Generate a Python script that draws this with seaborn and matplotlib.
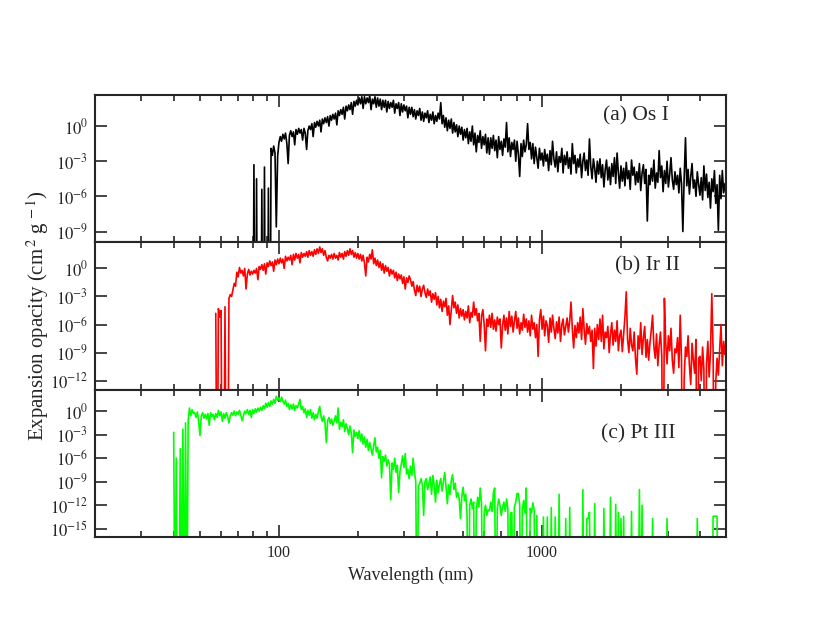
import numpy as np
import pandas as pd
import matplotlib
matplotlib.use("Agg")
import matplotlib.pyplot as plt
import seaborn as sns
from matplotlib.ticker import NullLocator, FuncFormatter, LogLocator

# wavelength grid (nm), 0.005 dex steps from 39.8 to 5012 nm, one row per 0.1 dex
wavelength = [
    39.81, 40.27, 40.74, 41.21, 41.69, 42.17, 42.66, 43.15, 43.65, 44.16, 44.67, 45.19, 45.71, 46.24, 46.77, 47.32, 47.86, 48.42, 48.98, 49.55,
    50.12, 50.70, 51.29, 51.88, 52.48, 53.09, 53.70, 54.33, 54.95, 55.59, 56.23, 56.89, 57.54, 58.21, 58.88, 59.57, 60.26, 60.95, 61.66, 62.37,
    63.10, 63.83, 64.57, 65.31, 66.07, 66.83, 67.61, 68.39, 69.18, 69.98, 70.79, 71.61, 72.44, 73.28, 74.13, 74.99, 75.86, 76.74, 77.62, 78.52,
    79.43, 80.35, 81.28, 82.22, 83.18, 84.14, 85.11, 86.10, 87.10, 88.10, 89.13, 90.16, 91.20, 92.26, 93.33, 94.41, 95.50, 96.61, 97.72, 98.86,
    100.0, 101.2, 102.3, 103.5, 104.7, 105.9, 107.2, 108.4, 109.6, 110.9, 112.2, 113.5, 114.8, 116.1, 117.5, 118.9, 120.2, 121.6, 123.0, 124.5,
    125.9, 127.4, 128.8, 130.3, 131.8, 133.4, 134.9, 136.5, 138.0, 139.6, 141.3, 142.9, 144.5, 146.2, 147.9, 149.6, 151.4, 153.1, 154.9, 156.7,
    158.5, 160.3, 162.2, 164.1, 166.0, 167.9, 169.8, 171.8, 173.8, 175.8, 177.8, 179.9, 182.0, 184.1, 186.2, 188.4, 190.5, 192.8, 195.0, 197.2,
    199.5, 201.8, 204.2, 206.5, 208.9, 211.3, 213.8, 216.3, 218.8, 221.3, 223.9, 226.5, 229.1, 231.7, 234.4, 237.1, 239.9, 242.7, 245.5, 248.3,
    251.2, 254.1, 257.0, 260.0, 263.0, 266.1, 269.2, 272.3, 275.4, 278.6, 281.8, 285.1, 288.4, 291.7, 295.1, 298.5, 302.0, 305.5, 309.0, 312.6,
    316.2, 319.9, 323.6, 327.3, 331.1, 335.0, 338.8, 342.8, 346.7, 350.8, 354.8, 358.9, 363.1, 367.3, 371.5, 375.8, 380.2, 384.6, 389.0, 393.6,
    398.1, 402.7, 407.4, 412.1, 416.9, 421.7, 426.6, 431.5, 436.5, 441.6, 446.7, 451.9, 457.1, 462.4, 467.7, 473.2, 478.6, 484.2, 489.8, 495.5,
    501.2, 507.0, 512.9, 518.8, 524.8, 530.9, 537.0, 543.3, 549.5, 555.9, 562.3, 568.9, 575.4, 582.1, 588.8, 595.7, 602.6, 609.5, 616.6, 623.7,
    631.0, 638.3, 645.7, 653.1, 660.7, 668.3, 676.1, 683.9, 691.8, 699.8, 707.9, 716.1, 724.4, 732.8, 741.3, 749.9, 758.6, 767.4, 776.2, 785.2,
    794.3, 803.5, 812.8, 822.2, 831.8, 841.4, 851.1, 861.0, 871.0, 881.0, 891.3, 901.6, 912.0, 922.6, 933.3, 944.1, 955.0, 966.1, 977.2, 988.6,
    1000, 1012, 1023, 1035, 1047, 1059, 1072, 1084, 1096, 1109, 1122, 1135, 1148, 1161, 1175, 1189, 1202, 1216, 1230, 1245,
    1259, 1274, 1288, 1303, 1318, 1334, 1349, 1365, 1380, 1396, 1413, 1429, 1445, 1462, 1479, 1496, 1514, 1531, 1549, 1567,
    1585, 1603, 1622, 1641, 1660, 1679, 1698, 1718, 1738, 1758, 1778, 1799, 1820, 1841, 1862, 1884, 1905, 1928, 1950, 1972,
    1995, 2018, 2042, 2065, 2089, 2113, 2138, 2163, 2188, 2213, 2239, 2265, 2291, 2317, 2344, 2371, 2399, 2427, 2455, 2483,
    2512, 2541, 2570, 2600, 2630, 2661, 2692, 2723, 2754, 2786, 2818, 2851, 2884, 2917, 2951, 2985, 3020, 3055, 3090, 3126,
    3162, 3199, 3236, 3273, 3311, 3350, 3388, 3428, 3467, 3508, 3548, 3589, 3631, 3673, 3715, 3758, 3802, 3846, 3890, 3936,
    3981, 4027, 4074, 4121, 4169, 4217, 4266, 4315, 4365, 4416, 4467, 4519, 4571, 4624, 4677, 4732, 4786, 4842, 4898, 4955,
    5012,
]

# log10 of expansion opacity (cm^2 g^-1); -30 = far below the axis
os_i = [
    None, None, None, None, None, None, None, None, None, None, None, None, None, None, None, None, None, None, None, None,
    None, None, None, None, None, None, None, None, None, None, None, None, None, None, None, None, None, None, None, None,
    None, None, None, None, None, None, None, None, None, None, None, None, None, None, None, None, None, None, None, None,
    -30, -3.3, -30, -4.5, -30, -30, -30, -5.4, -30, -3.5, -30, -30, -5.3, -30, -1.9, -2.5, -1.7, -2.3, -8.6, -2.6,
    -1.4, -0.9, -1.3, -0.7, -1.1, -0.6, -1.5, -3.2, -0.8, -0.4, -0.9, -0.5, -1.6, -0.3, -0.7, -0.2, -0.6, -0.3, -1.2, -0.2,
    -0.6, -2.0, -0.4, 0.0, -0.3, 0.2, -0.9, 0.3, -0.1, 0.4, 0.0, 0.5, -0.5, 0.6, 0.2, 0.7, 0.3, 0.8, 0.0, 0.9,
    0.5, 1.0, 0.6, 1.1, 0.1, 1.3, 0.9, 1.4, 1.0, 1.6, 0.6, 1.7, 1.3, 1.8, 1.4, 2.0, 1.0, 2.1, 1.7, 2.2,
    1.8, 2.4, 1.9, 2.5, 1.5, 2.5, 1.9, 2.4, 2.0, 2.6, 1.4, 2.3, 1.9, 2.5, 1.6, 2.4, 1.7, 2.3, 1.4, 2.2,
    1.6, 2.2, 1.2, 2.1, 1.5, 2.0, 1.6, 2.2, 1.1, 1.9, 1.5, 2.0, 0.9, 1.9, 1.2, 1.8, 1.3, 1.7, 0.7, 1.6,
    1.0, 1.6, 0.8, 1.4, 0.6, 1.3, 0.9, 1.5, 0.5, 1.2, 0.4, 1.1, 0.7, 1.3, 0.3, 1.0, 0.5, 1.2, 0.2, 0.9,
    0.4, 1.1, 0.6, 2.0, 0.2, 0.9, -0.1, 0.7, -0.4, 0.5, -0.2, 0.6, -0.6, 0.3, -0.5, 0.1, -0.9, 0.0, -0.7, -0.1,
    -1.2, -0.3, -1.0, -0.2, -1.5, -0.5, -1.3, 0.0, -1.6, -0.6, -2.2, -0.8, -1.4, -0.4, -1.9, -0.9, -1.6, -0.7, -2.3, -1.0,
    -2.4, -1.0, -1.9, -0.8, -2.1, -1.2, -2.7, -0.9, -2.0, -1.3, -2.5, -1.1, -1.8, 0.3, -2.2, -1.0, -2.6, -1.4, -2.0, -1.2,
    -3.0, -1.3, -2.4, -4.3, -1.5, -2.6, -1.2, -2.2, -1.6, 0.2, -2.0, -1.4, -2.8, -1.5, -3.2, -1.8, -2.7, -3.6, -1.9, -2.9,
    -2.3, -3.4, -2.0, -3.0, -2.4, -3.8, -2.1, -3.3, -1.3, -2.8, -3.5, -2.2, -3.9, -2.6, -3.1, -1.9, -4.0, -2.5, -3.3, -2.2,
    -3.6, -2.7, -4.1, -1.5, -3.2, -2.5, -4.0, -2.8, -3.5, -2.4, -4.4, -3.0, -2.3, -3.8, -2.9, -4.2, -1.1, -3.4, -4.5, -2.8,
    -3.6, -4.8, -3.0, -4.1, -2.8, -4.4, -3.3, -5.2, -3.7, -2.9, -4.6, -3.5, -5.0, -3.2, -4.3, -2.7, -4.9, -2.3, -4.0, -5.3,
    -3.4, -4.7, -3.6, -5.1, -3.1, -4.5, -3.8, -5.4, -2.9, -4.2, -3.5, -5.0, -3.9, -4.8, -3.2, -5.5, -4.0, -3.3, -4.9, -3.7,
    -8.1, -4.2, -5.0, -3.6, -4.7, -2.9, -5.3, -4.0, -4.8, -2.1, -4.4, -3.4, -5.6, -3.8, -4.9, -3.0, -5.2, -4.1, -2.7, -4.6,
    -5.4, -3.9, -5.0, -4.2, -5.7, -3.6, -4.9, -9.0, -4.5, -1.0, -5.1, -3.7, -5.8, -4.3, -3.2, -5.3, -4.6, -6.0, -3.9, -5.0,
    -5.9, -4.4, -6.3, -3.4, -5.5, -4.1, -6.1, -4.8, -7.0, -4.5, -5.6, -3.8, -6.6, -5.0, -8.9, -4.2, -6.2, -3.8, -5.7, -4.9,
    -6.0,
]

ir_ii = [
    None, None, None, None, None, None, None, None, None, None, None, None, None, None, None, None, None, None, None, None,
    None, None, None, None, None, None, None, None, None, None, None, None, -4.8, -30, -4.3, -5.2, -4.5, -30, -30, -4.1,
    -30, -30, -3.2, -2.8, -3.0, -2.3, -1.6, -1.9, -0.4, -0.9, 0.1, -0.5, -0.2, -0.8, 0.0, -2.2, -0.6, -0.1, -0.7, -0.3,
    -0.6, -0.2, -0.5, 0.0, -1.2, 0.2, -0.1, 0.4, -0.2, 0.5, -0.6, 0.6, 0.2, 0.8, 0.3, 0.7, -0.3, 0.9, 0.4, 1.0,
    0.5, 1.1, 0.6, 1.0, 0.0, 1.3, 0.8, 1.2, 0.9, 1.4, 0.4, 1.5, 0.9, 1.6, 1.1, 1.5, 0.6, 1.7, 1.2, 1.6,
    1.3, 1.8, 1.2, 1.9, 1.4, 1.8, 1.3, 2.0, 1.5, 2.1, 1.6, 2.3, 1.7, 2.1, 1.4, 1.9, 1.2, 0.8, 1.4, 1.1,
    1.5, 1.0, 1.6, 1.1, 1.4, 0.9, 1.7, 1.2, 1.6, 1.0, 1.8, 1.3, 1.9, 1.4, 2.1, 1.5, 1.9, 1.2, 1.7, 1.1,
    1.6, 1.0, 1.5, 0.8, 1.4, 0.6, -0.8, 1.2, 0.7, 1.5, 1.0, 2.0, 0.5, 1.1, 0.3, 0.9, 0.1, 0.7, -0.2, 0.5,
    -0.5, 0.3, -0.3, 0.1, -0.8, -0.1, -0.6, -0.2, -1.0, -0.4, -1.3, -0.6, -1.1, -0.7, -1.6, -0.9, -2.2, -1.0, -1.5, -0.8,
    -1.2, -1.9, -1.4, -2.3, -2.9, -1.8, -2.5, -1.9, -3.0, -2.2, -1.8, -2.6, -3.1, -2.2, -2.9, -2.4, -3.6, -2.7, -3.3, -2.6,
    -3.9, -3.0, -4.2, -3.3, -4.6, -3.5, -4.1, -3.2, -5.0, -4.0, -6.0, -4.4, -2.9, -4.2, -3.6, -4.8, -3.9, -5.3, -4.3, -5.1,
    -4.4, -5.5, -4.6, -5.3, -4.0, -5.8, -4.7, -5.2, -3.6, -5.0, -4.3, -5.6, -4.8, -7.8, -5.1, -4.4, -6.0, -8.8, -5.4, -6.2,
    -5.0, -6.3, -4.8, -6.5, -5.5, -6.7, -5.2, -6.0, -5.4, -8.5, -6.1, -5.0, -6.6, -5.3, -7.0, -4.6, -6.2, -5.1, -6.8, -5.6,
    -4.6, -6.4, -5.3, -7.0, -5.8, -6.6, -4.9, -6.3, -5.4, -6.8, -5.6, -7.2, -5.0, -6.5, -5.8, -7.4, -6.0, -9.4, -5.5, -4.4,
    -6.5, -5.1, -7.2, -5.6, -6.1, -7.9, -5.3, -6.8, -5.0, -6.4, -7.5, -5.7, -6.9, -5.2, -7.8, -6.0, -5.4, -7.1, -6.2, -5.3,
    -6.8, -5.6, -3.6, -6.4, -8.5, -6.1, -7.4, -5.8, -6.9, -5.2, -7.6, -4.3, -6.5, -8.1, -5.9, -7.0, -6.2, -7.8, -6.6, -10.7,
    -6.4, -8.3, -6.0, -7.6, -5.4, -7.8, -5.0, -8.6, -6.8, -7.4, -6.2, -9.0, -7.0, -5.8, -8.2, -6.6, -7.8, -5.6, -8.8, -7.2,
    -6.6, -8.9, -7.0, -5.2, -2.5, -7.6, -9.0, -6.4, -8.2, -8.8, -6.8, -9.6, -11.3, -7.2, -8.6, -5.8, -9.2, -7.4, -6.2, -9.5,
    -7.6, -9.8, -8.0, -6.6, -5.0, -8.4, -9.6, -7.0, -10.4, -8.2, -6.8, -9.4, -30, -3.2, -8.0, -10.2, -7.2, -8.8, -6.4, -9.8,
    -11.2, -8.6, -9.0, -7.4, -10.6, -5.0, -9.8, -30, -11.8, -8.4, -9.4, -7.2, -10.4, -12.4, -8.0, -9.8, -11.2, -7.6, -30, -9.6,
    -9.4, -12.0, -8.4, -10.8, -30, -10.2, -7.8, -11.6, -9.0, -2.7, -8.8, -30, -12.2, -9.6, -11.4, -8.6, -6.0, -10.4, -7.8, -9.2,
    -7.6,
]

pt_iii = [
    -2.7, -30, -6.0, -30, -30, -4.8, -30, -2.3, -30, -1.5, -30, -1.2, 0.4, -0.6, 0.2, -0.3, -0.2, -0.8, -0.1, -1.4,
    -3.1, -0.6, -0.2, -0.9, -0.4, -1.0, -0.3, -1.8, -0.2, -0.7, -0.4, -1.1, -0.3, -0.8, 0.1, -0.6, -0.1, -1.3, -0.3, -0.9,
    -0.2, -0.7, -1.5, -0.6, -0.2, -0.5, 0.0, -0.6, -0.1, -0.4, 0.1, -0.5, -1.2, -0.6, 0.0, -0.3, 0.2, -0.4, 0.1, -0.8,
    0.2, -0.3, 0.3, -0.1, 0.4, 0.0, 0.5, 0.1, 0.7, 0.3, 1.0, 0.5, 1.1, 0.6, 1.3, 0.9, 1.5, 1.0, 1.9, 1.4,
    1.7, 1.2, 1.8, 1.3, 0.9, 1.4, 0.6, 1.0, 0.2, 0.8, 0.3, 0.9, 0.1, 0.7, 0.4, 1.0, 1.5, 0.2, 0.6, -0.2,
    0.3, -0.8, 0.1, -0.5, 0.2, -0.9, -0.2, -1.1, -0.4, -0.9, 0.0, 0.6, -0.7, -1.3, -0.6, -1.5, -4.0, -1.2, -0.8, -1.6,
    -1.0, -1.8, -1.2, -0.6, -1.5, 0.4, -2.3, -1.4, -2.0, -1.1, -2.6, -1.6, -2.2, -3.0, -1.9, -2.8, -5.3, -2.4, -3.2, -2.7,
    -3.5, -2.5, -3.8, -2.9, -4.2, -3.3, -4.6, -3.6, -5.0, -4.0, -4.8, -5.6, -4.4, -3.4, -5.2, -4.6, -6.0, -5.0, -8.5, -5.8,
    -6.4, -5.6, -7.0, -6.2, -6.8, -11.3, -6.6, -7.4, -6.0, -7.8, -6.9, -10.4, -7.7, -6.8, -5.7, -7.2, -5.4, -8.0, -7.4, -8.6,
    -7.0, -8.2, -6.0, -7.8, -9.0, -30, -9.6, -9.2, -8.6, -9.4, -13.3, -9.0, -8.6, -10.0, -9.2, -8.4, -10.6, -8.2, -9.4, -11.6,
    -8.8, -10.4, -9.3, -8.6, -10.2, -9.0, -7.8, -9.6, -11.8, -9.4, -10.6, -8.8, -8.1, -10.0, -9.2, -11.0, -10.4, -11.2, -13.7, -10.8,
    -9.7, -11.4, -10.6, -13.3, -30, -12.0, -11.2, -12.4, -11.6, -30, -12.8, -11.0, -12.2, -9.8, -11.8, -30, -13.0, -12.0, -13.3, -12.6,
    -12.7, -11.6, -12.8, -10.4, -9.8, -30, -12.4, -11.2, -12.0, -13.3, -12.2, -11.6, -12.8, -11.2, -12.4, -30, -13.0, -12.9, -30, -12.2,
    -11.6, -10.5, -10.5, -12.0, -30, -12.6, -11.4, -13.0, -9.8, -30, -30, -12.4, -13.0, -11.7, -12.6, -30, -13.3, -30, -30, -30,
    -30, -13.5, -30, -30, -13.5, -30, -30, -12.3, -30, -30, -13.5, -30, -30, -10.6, -30, -30, -30, -30, -13.7, -30,
    -30, -12.3, -30, -30, -30, -30, -30, -30, -30, -30, -30, -10.0, -30, -30, -13.7, -13.7, -12.9, -30, -30, -30,
    -11.8, -30, -30, -30, -30, -30, -30, -12.4, -30, -30, -30, -30, -11.0, -30, -30, -30, -11.9, -30, -12.9, -30,
    -13.7, -30, -13.4, -30, -30, -30, -30, -30, -12.8, -30, -30, -30, -30, -30, -10.0, -30, -12.0, -30, -30, -30,
    -30, -30, -30, -30, -13.7, -30, -30, -30, -30, -30, -30, -30, -30, -30, -30, -13.7, -30, -30, -30, -30,
    -30, -30, -30, -30, -30, -30, -30, -30, -30, -30, -30, -30, -30, -30, -30, -30, -30, -30, -13.7, -30,
    -30, -30, -30, -30, -30, -30, -30, -30, -30, -30, -13.4, -13.4, -13.4, -13.4, -30, -30, -30, -30, -30, -30,
    -30,
]

panel_labels = ["(a) Os I", "(b) Ir II", "(c) Pt III"]
line_colors = ["black", "#ff0000", "#00ff00"]
ytick_exps = [[0, -3, -6, -9], [0, -3, -6, -9, -12], [0, -3, -6, -9, -12, -15]]
ylims = [(-9.92, 2.65), (-12.96, 2.79), (-16.05, 2.74)]
label_pos = [(0.857, 0.856), (0.876, 0.837), (0.861, 0.70)]

sns.set_style("ticks")
plt.rcParams["font.family"] = ["Liberation Serif", "DejaVu Serif"]
plt.rcParams["mathtext.fontset"] = "stix"

fig, axes = plt.subplots(3, 1, sharex=True, figsize=(8.17, 6.32), dpi=100)
fig.subplots_adjust(left=0.1163, right=0.8886, bottom=0.1503, top=0.8497, hspace=0)

for ax, values, color, label, exps, lim, pos in zip(
        axes, [os_i, ir_ii, pt_iii], line_colors, panel_labels, ytick_exps, ylims, label_pos):
    df = pd.DataFrame({"wavelength": wavelength,
                       "logk": np.array(values, dtype=float)}).dropna()
    df["opacity"] = 10.0 ** df["logk"]
    ax.set_xscale("log")
    ax.set_yscale("log")
    sns.lineplot(data=df, x="wavelength", y="opacity", ax=ax, color=color,
                 lw=1.2, estimator=None, sort=False, legend=False)
    ax.set_ylim(10.0 ** lim[0], 10.0 ** lim[1])
    ax.set_yticks([10.0 ** e for e in exps])
    ax.yaxis.set_major_formatter(FuncFormatter(lambda v, p: r"$10^{%d}$" % round(np.log10(v))))
    ax.yaxis.set_minor_locator(NullLocator())
    ax.tick_params(axis="y", labelsize=12)
    ax.tick_params(which="both", direction="in", top=True, right=True, width=1.2)
    ax.tick_params(which="major", length=8.5, pad=5)
    ax.tick_params(which="minor", length=4)
    for sp in ax.spines.values():
        sp.set_linewidth(1.5)
    ax.set_xlabel("")
    ax.set_ylabel("")
    ax.text(pos[0], pos[1], label, transform=ax.transAxes, ha="center", va="center", fontsize=15.5)

ax = axes[-1]
ax.set_xlim(20, 5000)
ax.xaxis.set_major_locator(LogLocator(base=10))
ax.xaxis.set_minor_locator(LogLocator(base=10, subs=np.arange(2, 10)))
ax.set_xticks([100, 1000], ["100", "1000"])
ax.tick_params(axis="x", labelsize=11.5, pad=6)
ax.set_xlabel("Wavelength (nm)", fontsize=13)
axes[1].set_ylabel(r"Expansion opacity (cm$^{\,2}$ g$^{\,-1}$)", fontsize=15)
axes[1].yaxis.set_label_coords(-0.069, 0.5)

fig.savefig("out.png", dpi=100)
